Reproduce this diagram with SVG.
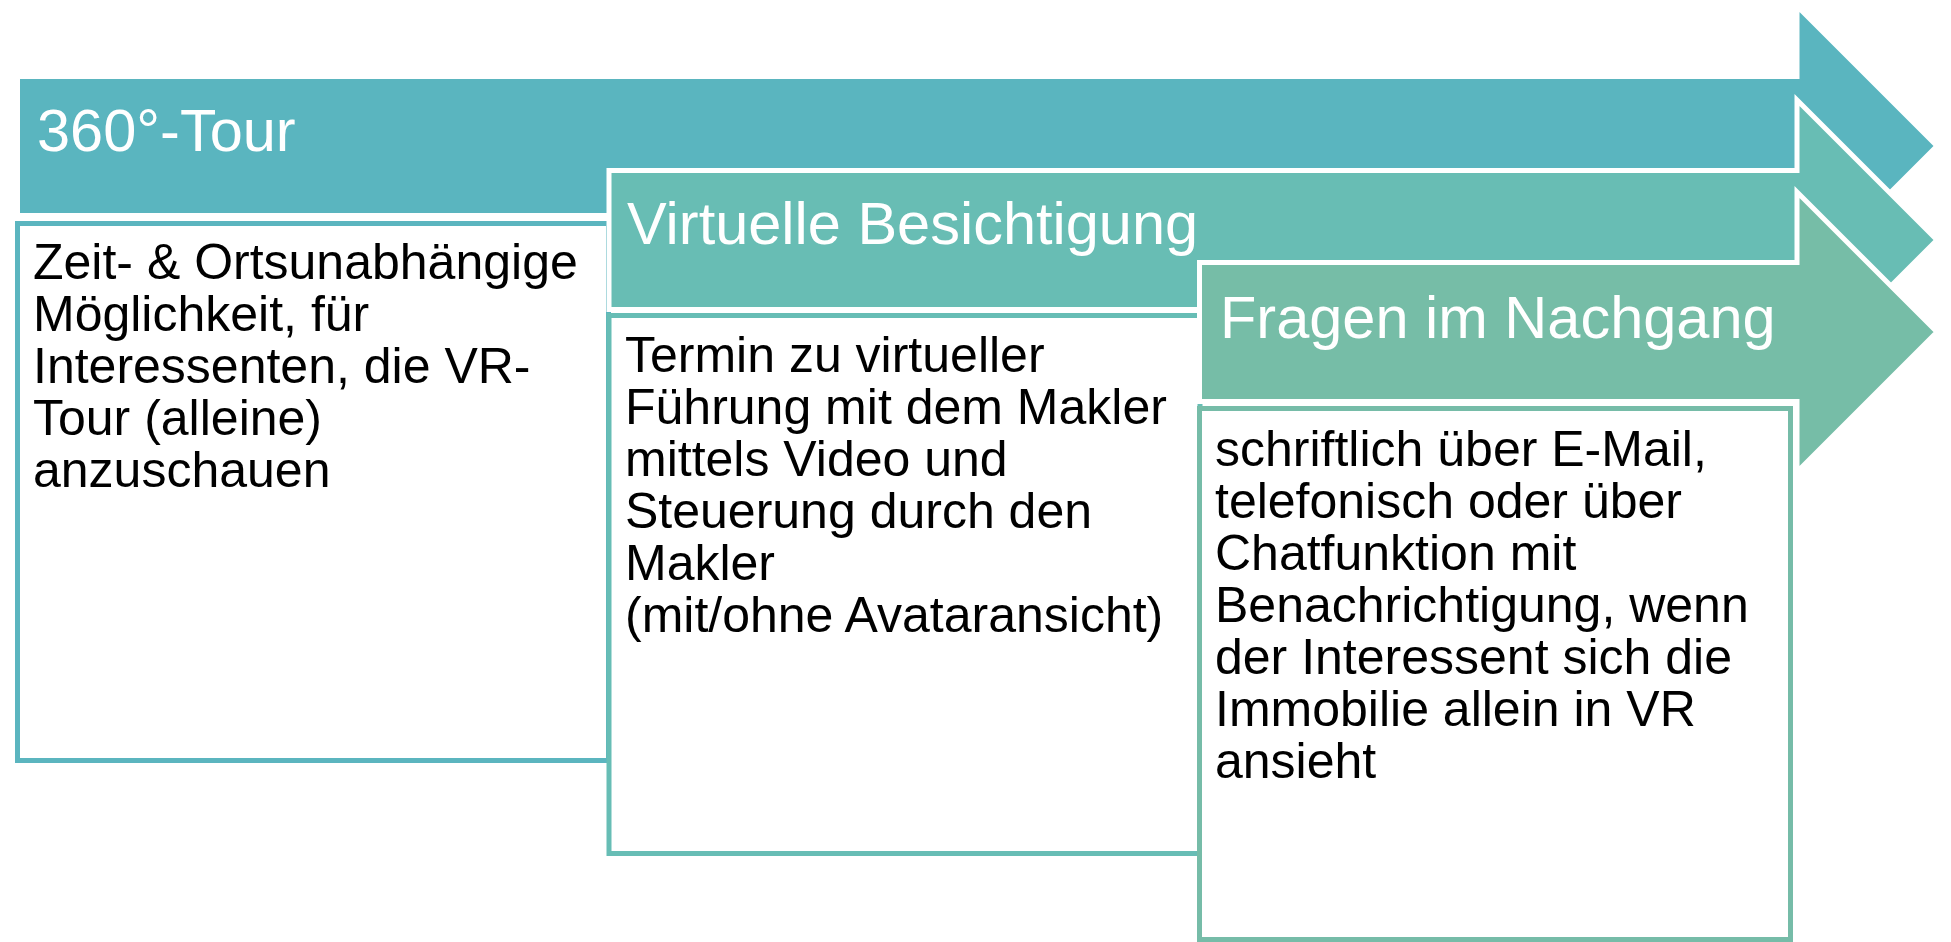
<svg xmlns="http://www.w3.org/2000/svg" width="1951" height="942" viewBox="0 0 1951 942">
<style>
.arrow{stroke:#FFFFFF;stroke-width:5;stroke-linejoin:miter}
.a1{fill:#5AB5BF}
.a2{fill:#68BDB4}
.a3{fill:#76BDA7}
.box{fill:#FFFFFF;stroke-width:5}
.b1{stroke:#5BB5BF}
.b2{stroke:#67BDB5}
.b3{stroke:#76BCA8}
.title{font-family:"Liberation Sans",Arial,sans-serif;font-size:59.5px;fill:#FFFFFF}
.body{font-family:"Liberation Sans",Arial,sans-serif;font-size:50px;fill:#000000}
</style>
<rect width="1951" height="942" fill="#FFFFFF"/>
<g id="step1-arrow">
<path class="arrow a1" d="M17.5,76.5 H1797 V6 L1937,146 L1797,286 V215.5 H17.5 Z"/>
<text class="title" x="37" y="151">360°-Tour</text>
</g>
<g id="step1-box">
<rect class="box b1" x="17.5" y="223.5" width="591" height="537"/>
<text class="body" x="33" y="279">Zeit- &amp; Ortsunabhängige</text>
<text class="body" x="33" y="331">Möglichkeit, für</text>
<text class="body" x="33" y="383">Interessenten, die VR-</text>
<text class="body" x="33" y="435">Tour (alleine)</text>
<text class="body" x="33" y="487">anzuschauen</text>
</g>
<g id="step2-arrow">
<path class="arrow a2" d="M609,170.5 H1797 V100 L1937,240 L1797,380 V309.5 H609 Z"/>
<text class="title" x="627" y="244">Virtuelle Besichtigung</text>
</g>
<g id="step2-box">
<rect class="box b2" x="609" y="315.5" width="591" height="538"/>
<text class="body" x="625" y="372">Termin zu virtueller</text>
<text class="body" x="625" y="424">Führung mit dem Makler</text>
<text class="body" x="625" y="476">mittels Video und</text>
<text class="body" x="625" y="528">Steuerung durch den</text>
<text class="body" x="625" y="580">Makler</text>
<text class="body" x="625" y="632">(mit/ohne Avataransicht)</text>
</g>
<g id="step3-arrow">
<path class="arrow a3" d="M1199.5,262.5 H1797 V192 L1937,332 L1797,472 V401.5 H1199.5 Z"/>
<text class="title" x="1220" y="338">Fragen im Nachgang</text>
</g>
<g id="step3-box">
<rect class="box b3" x="1199.5" y="408.5" width="591" height="531"/>
<text class="body" x="1215" y="466">schriftlich über E-Mail,</text>
<text class="body" x="1215" y="518">telefonisch oder über</text>
<text class="body" x="1215" y="570">Chatfunktion mit</text>
<text class="body" x="1215" y="622">Benachrichtigung, wenn</text>
<text class="body" x="1215" y="674">der Interessent sich die</text>
<text class="body" x="1215" y="726">Immobilie allein in VR</text>
<text class="body" x="1215" y="778">ansieht</text>
</g>
<g id="connectors"/>
</svg>
